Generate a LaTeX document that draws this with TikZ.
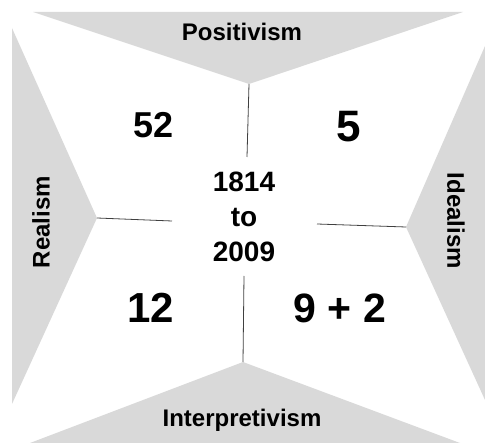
\documentclass[tikz,border=0pt]{standalone}
\usepackage{fontspec}
\setmainfont{Liberation Sans}
\begin{document}
\begin{tikzpicture}[x=1pt,y=-1pt,
  wedge/.style={fill=black!15,draw=none},
  divider/.style={draw=black!75,line width=0.8pt},
  label/.style={font=\bfseries\fontsize{24}{28}\selectfont,inner sep=0pt},
  count/.style={font=\bfseries\fontsize{#1}{#1}\selectfont,inner sep=0pt}]
\useasboundingbox (0,0) rectangle (485,443);
% wedges
\coordinate (tA) at (249,84);
\coordinate (lA) at (97,218);
\coordinate (rA) at (406,227);
\coordinate (bA) at (243,362);
\fill[wedge] (33,12) -- (463,12) -- (tA) -- cycle;
\fill[wedge] (12,28) -- (lA) -- (12,404) -- cycle;
\fill[wedge] (485,46) -- (485,400) -- (rA) -- cycle;
\fill[wedge] (30,443) -- (bA) -- (460,443) -- cycle;
% labels
\node[label] (pos) at (242,32) {Positivism};
\node[label] (int) at (242,420) {Interpretivism};
\node[label,rotate=90] (rea) at (41,222) {Realism};
\node[label,rotate=-90] (ide) at (456,221) {Idealism};
% centre
\node[font=\bfseries\fontsize{28}{35}\selectfont,align=center,inner sep=0pt] (ctr) at (244,217) {1814\\to\\2009};
% counts
\node[count=36] (n52) at (153.5,125) {52};
\node[count=44] (n5) at (349,127) {5};
\node[count=42] (n12) at (151,308) {12};
\node[count=41] (n92) at (340,308) {9 + 2};
% dividers
\coordinate (tE) at (247,157);
\coordinate (bE) at (244,276);
\coordinate (lE) at (172,221);
\coordinate (rE) at (317,224);
\draw[divider] (tA) -- (tE);
\draw[divider] (bE) -- (bA);
\draw[divider] (lA) -- (lE);
\draw[divider] (rE) -- (rA);
\end{tikzpicture}
\end{document}
